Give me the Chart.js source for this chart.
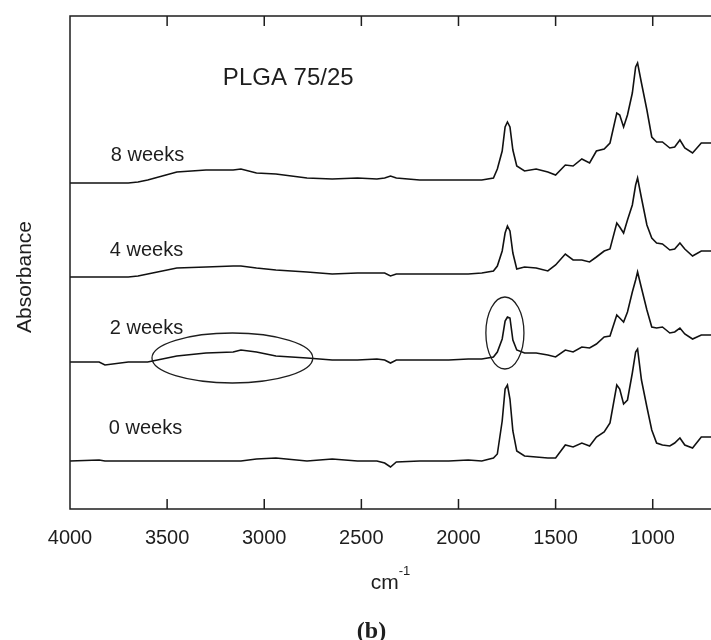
<!DOCTYPE html>
<html>
<head>
<meta charset="utf-8">
<script src="https://cdn.jsdelivr.net/npm/chart.js@4.4.0/dist/chart.umd.min.js"></script>
<style>
  body { margin: 0; background: #fff; }
  #wrap { width: 711px; height: 640px; }
</style>
</head>
<body>
<div id="wrap"><canvas id="ftirChart" width="711" height="640"></canvas></div>
<script>
// wavenumbers (cm-1) sampled along the spectra
const wavenumbers = [4000, 3850, 3820, 3700, 3650, 3600, 3450, 3300, 3160, 3120, 3040, 2940, 2780, 2650, 2520, 2420, 2380, 2350, 2320, 2200, 2050, 1950, 1880, 1820, 1800, 1775, 1760, 1748, 1735, 1720, 1700, 1660, 1600, 1540, 1500, 1450, 1410, 1365, 1325, 1290, 1250, 1220, 1185, 1170, 1150, 1130, 1105, 1088, 1078, 1058, 1030, 1005, 980, 950, 912, 887, 860, 835, 795, 750, 700];

// absorbance (arbitrary units, traces stacked with offsets)
const weeks8 = [326, 326, 326, 326, 327, 329, 337, 339, 339, 340, 336, 335, 331, 330, 331, 330, 331, 333, 331, 329, 329, 329, 329, 331, 340, 358, 382, 387, 382, 359, 343, 338, 340, 337, 334, 344, 343, 350, 346, 358, 360, 366, 396, 394, 382, 394, 416, 442, 446, 426, 399, 372, 367, 367, 361, 362, 369, 361, 356, 366, 366];
const weeks4 = [232, 232, 232, 232, 233, 235, 241, 242, 243, 243, 241, 239, 237, 235, 236, 236, 236, 233, 235, 235, 235, 235, 236, 238, 243, 258, 276, 283, 278, 256, 240, 242, 241, 238, 244, 255, 249, 249, 247, 252, 258, 260, 286, 282, 276, 289, 304, 324, 331, 311, 284, 271, 266, 265, 259, 260, 266, 260, 253, 258, 258];
const weeks2 = [147, 147, 144, 147, 147, 147, 153, 156, 157, 159, 157, 153, 151, 149, 149, 150, 149, 146, 149, 149, 149, 150, 150, 152, 157, 170, 188, 192, 191, 169, 159, 156, 156, 154, 152, 159, 157, 162, 161, 165, 172, 173, 194, 191, 187, 197, 217, 229, 237, 221, 199, 182, 181, 182, 176, 177, 181, 175, 170, 174, 174];
const weeks0 = [48, 49, 48, 48, 48, 48, 48, 48, 48, 48, 50, 51, 48, 50, 48, 48, 46, 42, 47, 48, 48, 49, 48, 51, 55, 88, 120, 124, 110, 78, 58, 53, 52, 51, 51, 64, 62, 66, 63, 72, 77, 86, 124, 120, 105, 109, 136, 157, 160, 129, 102, 79, 66, 64, 63, 66, 71, 64, 61, 72, 72];

const seriesNames = ['8 weeks', '4 weeks', '2 weeks', '0 weeks'];
const seriesValues = [weeks8, weeks4, weeks2, weeks0];
// where each trace's name is written (wavenumber, absorbance)
const nameAt = [[3790, 354], [3795, 259], [3795, 181], [3800, 81]];

const tickValues = [4000, 3500, 3000, 2500, 2000, 1500, 1000];

// highlighted regions: centre and half-size in data units
const ellipses = [
  { wn: 3164, abs: 151, dwn: 414, dabs: 25 },
  { wn: 1761, abs: 176, dwn: 98, dabs: 36 }
];

const FONT = "'Liberation Sans', Arial, sans-serif";
const INK = '#1e1e1e';

const decor = {
  id: 'decor',
  afterDatasetsDraw(chart) {
    const { ctx, chartArea: a, scales: { x, y } } = chart;
    ctx.save();
    ctx.strokeStyle = INK;
    ctx.lineWidth = 1.5;

    // frame (left, top, bottom) and inward ticks
    ctx.beginPath();
    ctx.moveTo(a.right, a.top);
    ctx.lineTo(a.left, a.top);
    ctx.lineTo(a.left, a.bottom);
    ctx.lineTo(a.right, a.bottom);
    tickValues.forEach(v => {
      const px = x.getPixelForValue(v);
      ctx.moveTo(px, a.top); ctx.lineTo(px, a.top + 10);
      ctx.moveTo(px, a.bottom); ctx.lineTo(px, a.bottom - 10);
    });
    ctx.stroke();

    // ellipses
    ctx.lineWidth = 1.3;
    ellipses.forEach(e => {
      const cx = x.getPixelForValue(e.wn);
      const cy = y.getPixelForValue(e.abs);
      const rx = Math.abs(x.getPixelForValue(e.wn + e.dwn) - cx);
      const ry = Math.abs(y.getPixelForValue(e.abs + e.dabs) - cy);
      ctx.beginPath();
      ctx.ellipse(cx, cy, rx, ry, 0, 0, Math.PI * 2);
      ctx.stroke();
    });

    // trace names and title
    ctx.fillStyle = INK;
    ctx.textBaseline = 'middle';
    ctx.textAlign = 'left';
    ctx.font = '20px ' + FONT;
    seriesNames.forEach((name, i) => {
      ctx.fillText(name, x.getPixelForValue(nameAt[i][0]), y.getPixelForValue(nameAt[i][1]));
    });
    ctx.font = '24px ' + FONT;
    ctx.fillText('PLGA 75/25', x.getPixelForValue(3213), y.getPixelForValue(431));

    // y title
    ctx.save();
    ctx.translate(25, 277);
    ctx.rotate(-Math.PI / 2);
    ctx.textAlign = 'center';
    ctx.font = '21px ' + FONT;
    ctx.fillText('Absorbance', 0, 0);
    ctx.restore();

    // x title with superscript
    const mid = (a.left + a.right) / 2;
    ctx.textBaseline = 'alphabetic';
    ctx.font = '21px ' + FONT;
    const w1 = ctx.measureText('cm').width;
    ctx.font = '13px ' + FONT;
    const w2 = ctx.measureText('-1').width;
    const sx = mid - (w1 + w2) / 2;
    ctx.font = '21px ' + FONT;
    ctx.fillText('cm', sx, 589);
    ctx.font = '13px ' + FONT;
    ctx.fillText('-1', sx + w1, 575);

    // panel letter
    ctx.textAlign = 'center';
    ctx.font = "bold 24px 'Liberation Serif', 'Times New Roman', serif";
    ctx.fillText('(b)', mid - 19, 638);
    ctx.restore();
  }
};

const ctx = document.getElementById('ftirChart').getContext('2d');
new Chart(ctx, {
  type: 'line',
  data: {
    datasets: seriesNames.map((name, i) => ({
      label: name,
      data: wavenumbers.map((w, j) => ({ x: w, y: seriesValues[i][j] })),
      borderColor: '#111',
      borderWidth: 1.6,
      pointRadius: 0,
      tension: 0,
      fill: false
    }))
  },
  options: {
    responsive: false,
    animation: false,
    layout: { padding: { left: 70, top: 16, right: 0, bottom: 0 } },
    plugins: { legend: { display: false }, tooltip: { enabled: false } },
    scales: {
      x: {
        type: 'linear',
        reverse: true,
        min: 700,
        max: 4000,
        afterBuildTicks: s => { s.ticks = tickValues.map(v => ({ value: v })); },
        afterFit: s => { s.height = 131; },
        grid: { display: false, drawTicks: false },
        border: { display: false },
        ticks: {
          padding: 17,
          autoSkip: false,
          maxRotation: 0,
          color: INK,
          font: { size: 20, family: FONT },
          callback: v => String(v)
        }
      },
      y: { display: false, min: 0, max: 493 }
    }
  },
  plugins: [decor]
});
</script>
</body>
</html>
